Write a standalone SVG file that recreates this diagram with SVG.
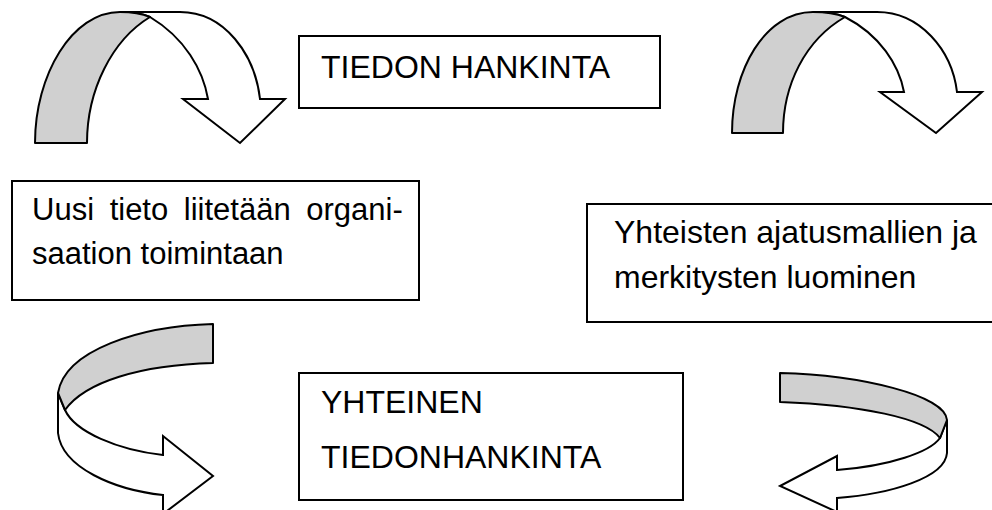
<svg xmlns="http://www.w3.org/2000/svg" width="992" height="510" viewBox="0 0 992 510">
  <style>
    .box { fill: #ffffff; stroke: #000000; stroke-width: 2; }
    .band { fill: #d0d0d0; stroke: #000000; stroke-width: 2; stroke-linejoin: round; }
    .ribbon { fill: #ffffff; stroke: #000000; stroke-width: 2; stroke-linejoin: miter; }
    .label { font-family: "Liberation Sans", Arial, sans-serif; font-size: 32px; fill: #000000; }
    .small { font-size: 31px; }
  </style>
  <rect width="992" height="510" fill="#ffffff"/>

  <!-- curved arrows -->
  <g id="connectors">
    <!-- top left: arc over, pointing down -->
    <g id="arrow-top-left">
      <path class="ribbon" d="M120,12 L180,12 C225,12 255,55 260,99 L285,99 L240,143 L183,99 L208,99 C203,70 185,38 150,17 Q138,12 120,12 Z"/>
      <path class="band" d="M35,143 C35,75 72,12 120,12 Q138,12 150,17 C112,40 87,90 87,143 Z"/>
    </g>
    <!-- top right: arc over, pointing down -->
    <g id="arrow-top-right">
      <path class="ribbon" d="M813,12 L877,12 C920,12 952,50 957,92 L982,92 L936,133 L880,92 L904,92 C899,65 880,35 845,17 Q832,12 813,12 Z"/>
      <path class="band" d="M732,133 C732,70 765,12 813,12 Q832,12 845,17 C805,40 783,85 783,133 Z"/>
    </g>
    <!-- bottom left: sweeping left then back right -->
    <g id="arrow-bottom-left">
      <path class="ribbon" d="M58,393 L58,433 C62,468 115,490 163,495 L163,514 L213,476 L163,436 L163,455 C118,450 75,432 65,410 Z"/>
      <path class="band" d="M213,324 L213,363 C140,365 85,382 65,410 L58,393 C65,350 140,326 213,324 Z"/>
    </g>
    <!-- bottom right: sweeping right then back left -->
    <g id="arrow-bottom-right">
      <path class="ribbon" d="M947,420 L947,453 C945,478 890,494 837,498 L837,512 L780,486 L837,456 L837,470 C890,466 930,452 940,438 Z"/>
      <path class="band" d="M780,373 L780,402 C860,405 925,418 940,438 L947,420 C945,395 860,375 780,373 Z"/>
    </g>
  </g>

  <!-- text boxes -->
  <g id="node-tiedon-hankinta">
    <rect class="box" x="299" y="36" width="361" height="72"/>
    <text class="label" x="321" y="78">TIEDON HANKINTA</text>
  </g>
  <g id="node-uusi-tieto">
    <rect class="box" x="12" y="181" width="407" height="119"/>
    <text class="label small" x="32" y="220" word-spacing="7">Uusi tieto liitetään organi-</text>
    <text class="label small" x="32" y="264">saation toimintaan</text>
  </g>
  <g id="node-yhteisten-ajatusmallien">
    <rect class="box" x="587" y="204" width="420" height="118"/>
    <text class="label" x="614" y="243">Yhteisten ajatusmallien ja</text>
    <text class="label" x="614" y="288">merkitysten luominen</text>
  </g>
  <g id="node-yhteinen-tiedonhankinta">
    <rect class="box" x="299" y="373" width="384" height="127"/>
    <text class="label" x="321" y="413">YHTEINEN</text>
    <text class="label" x="321" y="468">TIEDONHANKINTA</text>
  </g>
</svg>
